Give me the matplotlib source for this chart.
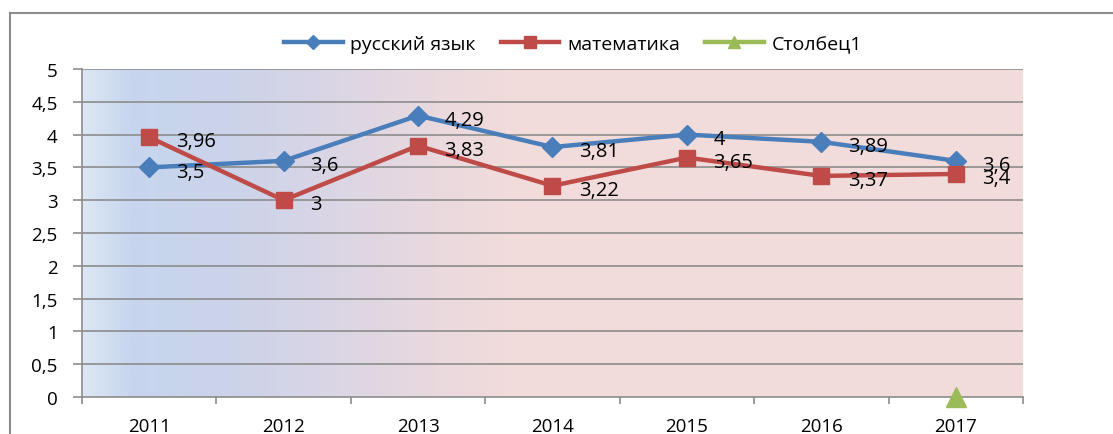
import numpy as np
import matplotlib
matplotlib.use('Agg')
import matplotlib.pyplot as plt
from matplotlib.colors import LinearSegmentedColormap
from matplotlib.lines import Line2D

plt.rcParams['font.family'] = ['Open Sans', 'DejaVu Sans']

# данные
years = ['2011', '2012', '2013', '2014', '2015', '2016', '2017']
russkiy = [3.5, 3.6, 4.29, 3.81, 4.0, 3.89, 3.6]
matem = [3.96, 3.0, 3.83, 3.22, 3.65, 3.37, 3.4]
stolbec1 = [None, None, None, None, None, None, 0]
y_ticks = [0, 0.5, 1, 1.5, 2, 2.5, 3, 3.5, 4, 4.5, 5]

blue = '#4a7ebb'
red = '#be4b48'
green = '#9bbb59'
grid_col = '#8c8c8c'

fig = plt.figure(figsize=(11.13, 4.35), dpi=100)
ax = fig.add_axes([82 / 1113, 1 - 398 / 435, (1023 - 82) / 1113, (398 - 70) / 435])

x = np.arange(len(years))
ax.set_xlim(-0.5, len(years) - 0.5)
ax.set_ylim(0, 5)

# фон с градиентом (голубой -> розовый)
cmap = LinearSegmentedColormap.from_list('bg', [
    (0.0, '#dde7f4'), (0.05, '#c6d6ee'), (0.16, '#ccd3ea'),
    (0.28, '#dcd6e4'), (0.38, '#ead9de'), (0.46, '#f2dcdb'), (1.0, '#f2dcdb')])
grad = np.linspace(0, 1, 512).reshape(1, -1)
ax.imshow(grad, cmap=cmap, aspect='auto', extent=(-0.5, len(years) - 0.5, 0, 5), zorder=0)

# сетка
for v in y_ticks[1:]:
    ax.axhline(v, color=grid_col, lw=1.2, zorder=1)

ax.plot(x, russkiy, color=blue, lw=3.2, marker='D', ms=10, zorder=3, label='русский язык')
ax.plot(x, matem, color=red, lw=3.2, marker='s', ms=11, zorder=3, label='математика')
sx = [i for i, v in enumerate(stolbec1) if v is not None]
sy = [v for v in stolbec1 if v is not None]
ax.plot(sx, sy, color=green, lw=3.2, marker='^', ms=14, ls='none', zorder=4, clip_on=False)

def fmt(v):
    s = ('%.2f' % v).rstrip('0').rstrip('.')
    return s.replace('.', ',')

for xi, v in zip(x, russkiy):
    ax.annotate(fmt(v), (xi, v), xytext=(19, -3), textcoords='offset points',
                va='center', ha='left', fontsize=14.5, zorder=5)
for xi, v in zip(x, matem):
    ax.annotate(fmt(v), (xi, v), xytext=(19, -3), textcoords='offset points',
                va='center', ha='left', fontsize=14.5, zorder=5)

# оси
ax.set_yticks(y_ticks)
ax.set_yticklabels([fmt(v) for v in y_ticks])
ax.set_xticks(x)
ax.set_xticklabels(years)
ax.set_xticks(np.arange(-0.5, len(years)), minor=True)
ax.tick_params(axis='x', which='major', length=0, pad=14.5, labelsize=13.5)
ax.tick_params(axis='x', which='minor', length=5, width=1.2, color=grid_col)
ax.tick_params(axis='y', length=6.5, width=1.2, color=grid_col, pad=11, labelsize=13.5)
for s in ['top', 'right']:
    ax.spines[s].set_visible(False)
for s in ['left', 'bottom']:
    ax.spines[s].set_color(grid_col)
    ax.spines[s].set_linewidth(1.2)
    ax.spines[s].set_zorder(2)

# легенда
handles = [
    Line2D([], [], color=blue, lw=3.2, marker='D', ms=7),
    Line2D([], [], color=red, lw=3.2, marker='s', ms=8),
    Line2D([], [], color=green, lw=3.2, marker='^', ms=8),
]
fig.legend(handles, ['русский язык', 'математика', 'Столбец1'], loc='center',
           bbox_to_anchor=(573 / 1113, 1 - 45 / 435), ncol=3, frameon=False,
           fontsize=14, handlelength=3.0, handletextpad=0.4, columnspacing=1.3)

# рамка области диаграммы
fig.add_artist(Line2D([10 / 1113, 1], [1 - 14 / 435, 1 - 14 / 435], color=grid_col, lw=1.5))
fig.add_artist(Line2D([10 / 1113, 10 / 1113], [0, 1 - 14 / 435], color=grid_col, lw=1.5))

fig.savefig('out.png', dpi=100)
